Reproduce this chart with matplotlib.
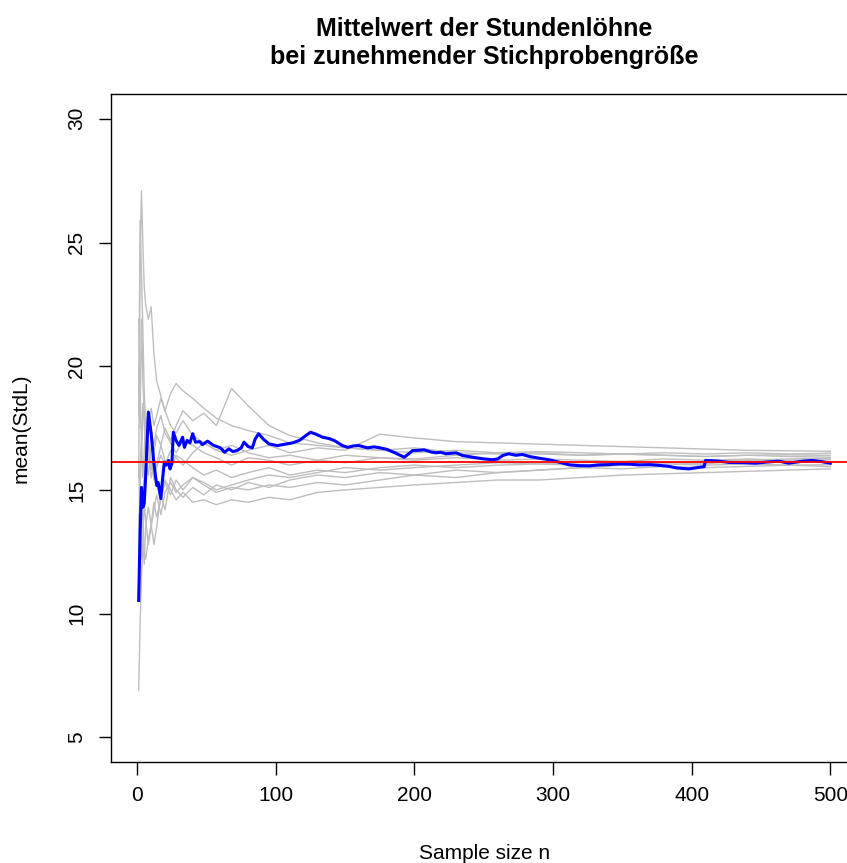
import matplotlib
matplotlib.use("Agg")
import matplotlib.pyplot as plt

plt.rcParams["font.family"] = ["Liberation Sans", "DejaVu Sans"]

# sample sizes at which the grey (simulated) running means were read
n_grid = [1, 2, 3, 4, 5, 6, 8, 10, 12, 14, 17, 20, 24, 28, 33, 40, 48, 57, 68, 80,
          95, 110, 130, 150, 175, 200, 230, 260, 290, 320, 350, 380, 410, 440, 470, 500]

grey_runs = [
    [15.5, 24.0, 27.1, 25.0, 23.2, 22.5, 21.9, 22.4, 20.5, 19.4, 18.8, 18.2, 17.6, 17.3, 17.8, 17.2, 16.9, 16.6,
     16.8, 16.5, 16.3, 16.4, 16.2, 16.4, 16.3, 16.2, 16.3, 16.2, 16.25, 16.2, 16.15, 16.25, 16.2, 16.25, 16.2, 16.22],
    [18.0, 25.9, 23.8, 21.5, 19.0, 17.5, 16.8, 15.5, 16.0, 15.2, 14.6, 15.4, 15.0, 14.6, 14.9, 14.5, 14.6, 14.4,
     14.6, 14.5, 14.7, 14.6, 14.9, 15.0, 15.1, 15.2, 15.3, 15.4, 15.4, 15.5, 15.6, 15.65, 15.7, 15.75, 15.8, 15.85],
    [6.9, 9.5, 11.5, 12.8, 12.0, 13.5, 14.3, 13.6, 12.8, 13.5, 14.8, 14.2, 15.5, 15.0, 14.7, 15.1, 14.8, 15.2,
     15.0, 15.3, 15.1, 15.4, 15.6, 15.5, 15.7, 15.6, 15.8, 15.7, 15.8, 15.9, 15.85, 15.95, 15.9, 15.95, 16.0, 15.94],
    [12.5, 16.0, 17.0, 18.5, 17.8, 16.5, 17.5, 18.3, 17.6, 18.0, 18.7, 18.2, 18.9, 19.3, 19.0, 18.7, 18.3, 17.9,
     17.6, 17.4, 17.2, 16.9, 16.8, 16.7, 16.6, 16.7, 16.5, 16.45, 16.5, 16.4, 16.45, 16.4, 16.35, 16.4, 16.35, 16.32],
    [20.0, 17.5, 21.9, 19.5, 18.0, 17.0, 16.2, 15.8, 16.5, 17.2, 16.8, 17.5, 17.0, 17.6, 18.2, 17.8, 18.1, 17.6,
     19.1, 18.4, 17.6, 17.2, 16.9, 16.7, 16.6, 16.5, 16.6, 16.5, 16.55, 16.5, 16.45, 16.5, 16.45, 16.5, 16.45, 16.48],
    [14.0, 12.0, 13.2, 14.8, 15.5, 16.2, 15.6, 16.8, 16.2, 15.9, 16.4, 16.0, 16.6, 16.3, 16.0, 16.5, 16.9, 16.6,
     16.4, 16.6, 16.8, 16.5, 16.7, 16.6, 17.25, 17.1, 16.95, 16.9, 16.85, 16.8, 16.75, 16.7, 16.65, 16.6, 16.58, 16.56],
    [16.0, 14.0, 12.2, 13.0, 14.5, 13.8, 12.8, 13.5, 14.2, 14.8, 14.0, 14.9, 15.3, 14.9, 15.2, 15.5, 15.3, 15.0,
     15.2, 15.4, 15.6, 15.5, 15.7, 15.9, 15.8, 15.9, 16.0, 16.1, 16.05, 16.1, 16.15, 16.1, 16.15, 16.2, 16.15, 16.12],
    [21.9, 19.0, 17.0, 15.5, 16.5, 17.8, 17.0, 16.2, 15.4, 16.0, 16.8, 16.2, 15.8, 16.4, 16.2, 15.9, 15.6, 15.8,
     15.5, 15.7, 15.9, 15.6, 15.8, 15.7, 15.9, 16.0, 15.9, 16.0, 16.05, 16.0, 16.1, 16.05, 16.0, 16.05, 16.0, 16.02],
    [13.0, 15.0, 16.5, 17.8, 18.6, 17.5, 18.2, 17.4, 16.8, 17.5, 18.0, 17.3, 16.9, 16.5, 17.0, 16.8, 16.5, 16.3,
     16.0, 16.3, 16.2, 16.0, 16.2, 16.1, 16.3, 16.25, 16.4, 16.5, 16.45, 16.4, 16.45, 16.4, 16.35, 16.4, 16.42, 16.39],
    [12.0, 13.5, 14.5, 13.8, 12.5, 12.2, 13.0, 13.6, 14.5, 13.9, 14.6, 15.3, 14.8, 15.4, 15.0, 15.5, 15.2, 14.9,
     15.1, 15.0, 15.2, 15.1, 15.3, 15.2, 15.4, 15.6, 15.5, 15.7, 15.8, 15.9, 16.0, 16.1, 16.05, 16.2, 16.25, 16.28],
]

# highlighted run (blue)
blue_n = [1, 2, 3, 4, 5, 6, 8, 10, 12, 14, 15, 17, 18, 19.5, 21, 22.6, 23.6, 25, 26, 28, 30, 32.7, 34, 36,
          38, 40, 42, 45, 47, 50.7, 55, 60, 63, 66, 69, 72, 75, 77, 80, 83, 85, 87.5, 91, 95, 101, 107,
          112, 117, 121.7, 125, 129, 133.7, 138, 142, 148, 152, 156, 160, 166, 171, 175, 180, 186.6,
          192.6, 195, 198.6, 203, 207, 212, 215.5, 219, 222.7, 230, 234.7, 242, 249, 256, 260, 263.6,
          268, 273, 278, 283, 290, 297, 304.5, 311.7, 319, 326, 333, 340, 347.8, 355, 362, 370, 376.6,
          383.8, 388.7, 393, 398, 404, 409, 410, 418, 427, 437, 446, 455, 463, 470, 480, 487, 494, 500]
blue_mean = [10.53, 13.2, 15.1, 14.3, 14.45, 15.5, 18.14, 17.28, 16.07, 15.18, 15.3, 14.65, 15.3, 16.12,
             16.0, 16.19, 15.85, 16.1, 17.33, 17.0, 16.8, 17.13, 16.72, 17.0, 16.9, 17.27, 16.93, 16.95,
             16.83, 16.97, 16.8, 16.7, 16.52, 16.66, 16.55, 16.59, 16.7, 16.93, 16.75, 16.7, 17.05, 17.27,
             17.05, 16.86, 16.79, 16.85, 16.9, 17.0, 17.2, 17.33, 17.25, 17.13, 17.08, 17.0, 16.79, 16.72,
             16.78, 16.79, 16.7, 16.74, 16.7, 16.64, 16.48, 16.32, 16.42, 16.59, 16.6, 16.62, 16.53, 16.5,
             16.52, 16.46, 16.5, 16.39, 16.32, 16.26, 16.22, 16.25, 16.39, 16.46, 16.4, 16.43, 16.35, 16.28,
             16.22, 16.12, 16.01, 15.98, 15.97, 16.01, 16.02, 16.05, 16.04, 16.01, 16.02, 15.99, 15.95, 15.89,
             15.87, 15.85, 15.9, 15.94, 16.19, 16.17, 16.11, 16.1, 16.08, 16.13, 16.16, 16.08, 16.16, 16.19,
             16.14, 16.08]

true_mean = 16.11

fig = plt.figure(figsize=(8.47, 8.63), dpi=100)
ax = fig.add_axes([0.131, 0.117, 0.882, 0.774])

for run in grey_runs:
    ax.plot(n_grid, run, color="#BEBEBE", lw=1.0)
ax.plot(blue_n, blue_mean, color="blue", lw=2.2)
ax.axhline(true_mean, color="red", lw=1.3)

ax.set_xlim(-19, 520)
ax.set_ylim(4, 31)
ax.set_xticks([0, 100, 200, 300, 400, 500])
ax.set_yticks([5, 10, 15, 20, 25, 30])
ax.set_yticklabels(["5", "10", "15", "20", "25", "30"], rotation=90, va="center")
ax.tick_params(length=9, width=1, labelsize=15, pad=8)
ax.tick_params(axis="y", pad=9)
for s in ax.spines.values():
    s.set_linewidth(1)

ax.set_xlabel("Sample size n", fontsize=15, labelpad=28)
ax.set_ylabel("mean(StdL)", fontsize=15, labelpad=26)
ax.set_title("Mittelwert der Stundenlöhne\nbei zunehmender Stichprobengröße",
             fontsize=18, fontweight="bold", pad=21.5, linespacing=1.2)

fig.savefig("out.png", dpi=100)
